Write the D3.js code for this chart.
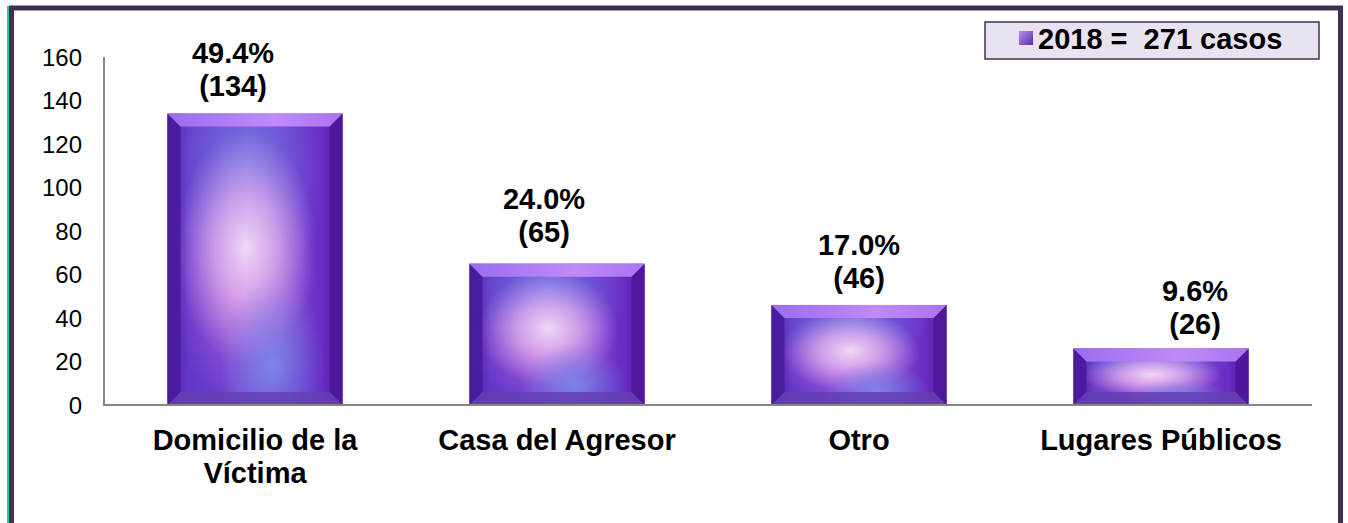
<!DOCTYPE html>
<html>
<head>
<meta charset="utf-8">
<script src="https://cdn.jsdelivr.net/npm/d3@7"></script>
<style>
  body { margin: 0; background: #fff; }
  svg text { font-family: Arial, "Liberation Sans", sans-serif; }
</style>
</head>
<body>
<div id="chart"></div>
<script>
// data
const categories = [["Domicilio de la", "Víctima"], ["Casa del Agresor"], ["Otro"], ["Lugares Públicos"]];
const casos = [134, 65, 46, 26];
const percents = ["49.4%", "24.0%", "17.0%", "9.6%"];
const yTicks = [0, 20, 40, 60, 80, 100, 120, 140, 160];
const legendLabel = "2018 =  271 casos";

// hand placed label nudges (as in the original)
const labelShift = [{dx: -22, gap: 18}, {dx: -13, gap: 22}, {dx: 0, gap: 17}, {dx: 34, gap: 14}];

const W = 1348, H = 523;
const svg = d3.select("#chart").append("svg")
  .attr("width", W).attr("height", H);

const defs = svg.append("defs");

// bar body gradients
const body = defs.append("linearGradient").attr("id", "body");
[["0%", "#4a1a9c"], ["12%", "#6236c8"], ["50%", "#6a46d4"], ["88%", "#6a2cc4"], ["100%", "#54189c"]]
  .forEach(s => body.append("stop").attr("offset", s[0]).attr("stop-color", s[1]));

function radial(id, cx, cy, r, stops) {
  const g = defs.append("radialGradient").attr("id", id)
    .attr("cx", cx).attr("cy", cy).attr("r", r);
  stops.forEach(s => g.append("stop").attr("offset", s[0])
    .attr("stop-color", s[1]).attr("stop-opacity", s[2]));
}
radial("blueTop", 0.45, 0.2, 0.45, [[0, "#7a86e6", 0.75], [1, "#7a86e6", 0]]);
radial("pink", 0.45, 0.6, 0.42, [[0, "#d870e0", 0.8], [1, "#c060d8", 0]]);
radial("glow", 0.45, 0.46, 0.4, [[0, "#f4e0f6", 0.95], [0.45, "#e4b8f0", 0.7], [1, "#d0a0ee", 0]]);
radial("blueBot", 0.6, 0.86, 0.3, [[0, "#7c8ae8", 0.9], [1, "#7c8ae8", 0]]);

const topBevel = defs.append("linearGradient").attr("id", "topBevel")
  .attr("x1", 0).attr("x2", 1).attr("y1", 0).attr("y2", 0);
topBevel.append("stop").attr("offset", "0%").attr("stop-color", "#9a6cf0");
topBevel.append("stop").attr("offset", "60%").attr("stop-color", "#c08af8");
topBevel.append("stop").attr("offset", "100%").attr("stop-color", "#a874f0");

const icon = defs.append("linearGradient").attr("id", "icon")
  .attr("x1", 0).attr("x2", 1).attr("y1", 0).attr("y2", 1);
icon.append("stop").attr("offset", "0%").attr("stop-color", "#b890f0");
icon.append("stop").attr("offset", "100%").attr("stop-color", "#5a2aa8");

// frame
svg.append("line").attr("x1", 8).attr("x2", 8).attr("y1", 6).attr("y2", H)
  .attr("stroke", "#22cc8c").attr("stroke-width", 2);
svg.append("path")
  .attr("d", `M11.5,${H} V8 H1340.5 V${H}`)
  .attr("fill", "none").attr("stroke", "#3f3154").attr("stroke-width", 5);

// scales
const x = d3.scaleBand().domain(d3.range(casos.length))
  .range([104, 1312]).paddingInner(0.42).paddingOuter(0.21);
const y = d3.scaleLinear().domain([0, 160]).range([405, 57]);

// y tick labels
svg.append("g").selectAll("text").data(yTicks).join("text")
  .attr("x", 82).attr("y", d => y(d)).attr("dy", "0.36em")
  .attr("text-anchor", "end").attr("font-size", 24).attr("fill", "#000")
  .text(d => d);

// bars
const bev = 13;
const bars = svg.append("g").selectAll("g").data(casos).join("g")
  .attr("transform", (d, i) => `translate(${x(i)},${y(d)})`);
const bw = x.bandwidth();
const bh = d => y(0) - y(d);

bars.append("rect").attr("width", bw).attr("height", bh).attr("fill", "url(#body)");
["blueTop", "pink", "glow", "blueBot"].forEach(g =>
  bars.append("rect").attr("width", bw).attr("height", bh).attr("fill", `url(#${g})`));
bars.append("path")
  .attr("d", d => `M0,0 L${bev},${bev} L${bev},${bh(d) - bev} L0,${bh(d)} Z`)
  .attr("fill", "#4a1a9e").attr("opacity", 0.92);
bars.append("path")
  .attr("d", d => `M${bw},0 L${bw - bev},${bev} L${bw - bev},${bh(d) - bev} L${bw},${bh(d)} Z`)
  .attr("fill", "#4c189a").attr("opacity", 0.92);
bars.append("path")
  .attr("d", d => `M0,${bh(d)} L${bev},${bh(d) - bev} L${bw - bev},${bh(d) - bev} L${bw},${bh(d)} Z`)
  .attr("fill", "#6440b4").attr("opacity", 0.85);
bars.append("path")
  .attr("d", `M0,0 L${bw},0 L${bw - bev},${bev} L${bev},${bev} Z`)
  .attr("fill", "url(#topBevel)");

// axes lines
svg.append("line").attr("x1", 104).attr("x2", 104).attr("y1", y(160)).attr("y2", y(0) + 1)
  .attr("stroke", "#868686").attr("stroke-width", 2);
svg.append("line").attr("x1", 103).attr("x2", 1312).attr("y1", y(0)).attr("y2", y(0))
  .attr("stroke", "#868686").attr("stroke-width", 2);

// value labels
const labels = svg.append("g").selectAll("text").data(casos).join("text")
  .attr("text-anchor", "middle").attr("font-size", 29).attr("font-weight", "bold")
  .attr("transform", (d, i) =>
    `translate(${x(i) + bw / 2 + labelShift[i].dx},${y(d) - labelShift[i].gap})`);
labels.append("tspan").attr("x", 0).attr("y", -33).text((d, i) => percents[i]);
labels.append("tspan").attr("x", 0).attr("y", 0).text(d => `(${d})`);

// category labels
svg.append("g").selectAll("text").data(categories).join("text")
  .attr("text-anchor", "middle").attr("font-size", 29).attr("font-weight", "bold")
  .attr("transform", (d, i) => `translate(${x(i) + bw / 2},450)`)
  .selectAll("tspan").data(d => d).join("tspan")
  .attr("x", 0).attr("y", (d, j) => j * 33).text(d => d);

// legend
const lg = svg.append("g");
lg.append("rect").attr("x", 985).attr("y", 22).attr("width", 334).attr("height", 37)
  .attr("fill", "#e9e3f1").attr("stroke", "#3f3154").attr("stroke-width", 1.5);
lg.append("rect").attr("x", 1019).attr("y", 31).attr("width", 14).attr("height", 14)
  .attr("fill", "url(#icon)");
lg.append("text").attr("x", 1038).attr("y", 48.5)
  .attr("font-size", 29).attr("font-weight", "bold").attr("xml:space", "preserve")
  .style("white-space", "pre").text(legendLabel);
</script>
</body>
</html>
